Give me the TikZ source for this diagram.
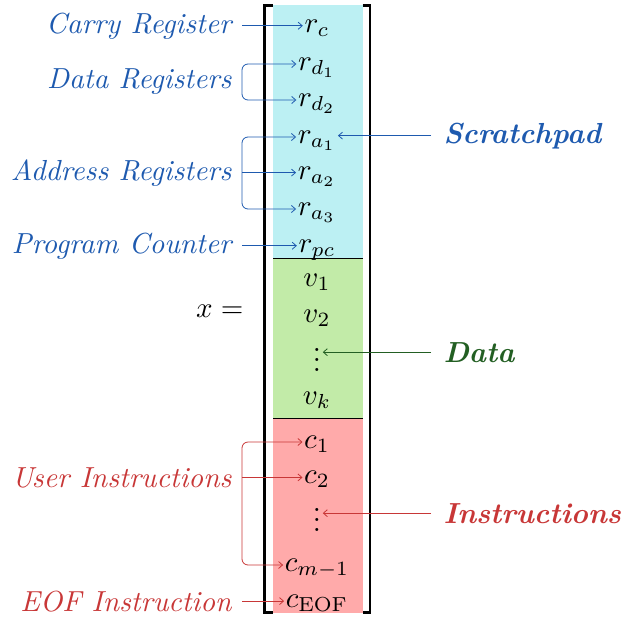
\documentclass[tikz,border=0pt]{standalone}
\usetikzlibrary{arrows.meta}
\definecolor{cblue}{RGB}{30,90,175}
\definecolor{cred}{RGB}{200,55,55}
\definecolor{cgreen}{RGB}{35,95,35}
\definecolor{fcyan}{RGB}{188,240,243}
\definecolor{fgreen}{RGB}{194,235,168}
\definecolor{fred}{RGB}{255,170,170}
\newcommand{\myvdots}{\vbox{\baselineskip3.3pt\lineskiplimit0pt\hbox{.}\hbox{.}\hbox{.}}}
\begin{document}
\begin{tikzpicture}[x=1pt,y=-1pt,
  >={Straight Barb[length=4pt,width=7pt]},
  lab/.style={anchor=base east, scale=2.9, inner sep=0pt, font=\itshape},
  rlab/.style={anchor=base west, scale=2.9, inner sep=0pt, font=\bfseries\itshape},
  mth/.style={anchor=base, scale=2.9, inner sep=0.4pt},
  conn/.style={line width=0.8pt},
  bracket/.style={line width=2.6pt},
  sep/.style={line width=0.9pt}]
\useasboundingbox (0,0) rectangle (621,616);
% column fills
\fill[fcyan] (273,5) rectangle (362.5,258);
\fill[fgreen] (273,258) rectangle (362.5,418);
\fill[fred] (273,418) rectangle (362.5,613);
\draw[sep] (273,258) -- (362.5,258);
\draw[sep] (273,418) -- (362.5,418);
% brackets
\draw[bracket] (272.5,5.5) -- (264.5,5.5) -- (264.5,612.5) -- (272.5,612.5);
\draw[bracket] (362.5,5.5) -- (370,5.5) -- (370,612.5) -- (362.5,612.5);
% entries
\node[mth] (rc)  at (317,32)  {$r_c$};
\node[mth] (rd1) at (317,70)  {$r_{d_1}$};
\node[mth] (rd2) at (317,106) {$r_{d_2}$};
\node[mth] (ra1) at (317,143) {$r_{a_1}$};
\node[mth] (ra2) at (317,179) {$r_{a_2}$};
\node[mth] (ra3) at (317,215) {$r_{a_3}$};
\node[mth] (rpc) at (317,252) {$r_{pc}$};
\node[mth] (v1)  at (317,286) {$v_1$};
\node[mth] (v2)  at (317,322) {$v_2$};
\node[mth] (vd)  at (317,371) {\myvdots};
\node[mth] (vk)  at (317,404) {$v_k$};
\node[mth] (c1)  at (317,448) {$c_1$};
\node[mth] (c2)  at (317,483) {$c_2$};
\node[mth] (cd)  at (317,531) {\myvdots};
\node[mth] (cm)  at (317,571) {$c_{m-1}$};
\node[mth] (ce)  at (317,607) {$c_{\mathrm{EOF}}$};
\node[anchor=base east, scale=2.9, inner sep=0pt] (xeq) at (244,317) {$x =$};
% left labels
\node[lab,text=cblue] (lcr) at (232,33)  {Carry Register};
\node[lab,text=cblue] (ldr) at (232,88)  {Data Registers};
\node[lab,text=cblue] (lar) at (232,180) {Address Registers};
\node[lab,text=cblue] (lpc) at (232,253) {Program Counter};
\node[lab,text=cred]  (lui) at (232,487) {User Instructions};
\node[lab,text=cred]  (leo) at (232,611) {EOF Instruction};
% right labels
\node[rlab,text=cblue]  (lsp) at (443,143) {Scratchpad};
\node[rlab,text=cgreen] (lda) at (443,362) {Data};
\node[rlab,text=cred]   (lin) at (443,523) {Instructions};
% left connectors
\draw[conn,cblue,->] ([xshift=10pt]lcr.east) -- (lcr.east -| rc.west);
\draw[conn,cblue,<->,rounded corners=6pt] ([yshift=6pt]rd1.base west) -| ([xshift=10pt]ldr.east) |- ([yshift=6pt]rd2.base west);
\draw[conn,cblue,<->,rounded corners=6pt] ([yshift=6pt]ra1.base west) -| ([xshift=10pt]lar.east) |- ([yshift=6pt]ra3.base west);
\draw[conn,cblue,->] ([xshift=10pt]lar.east) -- (lar.east -| ra2.west);
\draw[conn,cblue,->] ([xshift=10pt]lpc.east) -- (lpc.east -| rpc.west);
\draw[conn,cred,<->,rounded corners=6pt] ([yshift=6pt]c1.base west) -| ([xshift=10pt]lui.east) |- ([yshift=6pt]cm.base west);
\draw[conn,cred,->] ([xshift=10pt]lui.east) -- (lui.east -| c2.west);
\draw[conn,cred,->] ([xshift=10pt]leo.east) -- (leo.east -| ce.west);
% right connectors
\draw[conn,cblue,->]  ([xshift=-12pt]lsp.west) -- (lsp.west -| ra1.east);
\draw[conn,cgreen,->] ([xshift=-12pt]lda.west) -- (lda.west -| vd.east);
\draw[conn,cred,->]   ([xshift=-12pt]lin.west) -- (lin.west -| cd.east);
\end{tikzpicture}
\end{document}
